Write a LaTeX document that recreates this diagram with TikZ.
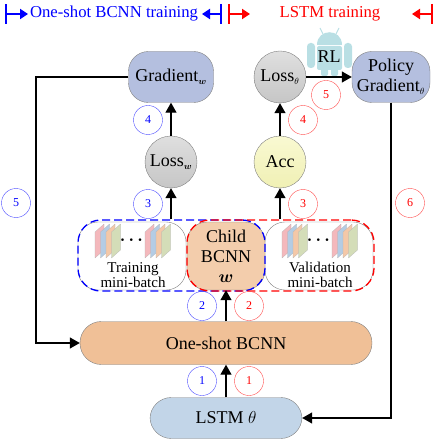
\documentclass[tikz,border=0pt]{standalone}
\usepackage{fontspec}
\setmainfont{Liberation Serif}
\usepackage{amsmath}
\usepackage{bm}
\usepackage{tikz}
\usetikzlibrary{arrows.meta}

\definecolor{gradfill}{HTML}{B4BFDF}
\definecolor{childfill}{HTML}{F0C097}
\definecolor{lstmfill}{HTML}{C2D5E8}
\definecolor{robotfill}{HTML}{B9DFE4}
\definecolor{bluemark}{HTML}{0000FF}
\definecolor{redmark}{HTML}{FF0000}
\definecolor{cardred}{HTML}{F4B8BC}
\definecolor{cardblue}{HTML}{B4CCE4}
\definecolor{cardorange}{HTML}{F4C8A8}
\definecolor{cardgreen}{HTML}{D4DDB8}
\definecolor{acctop}{HTML}{F9F9D2}
\definecolor{accbot}{HTML}{F0F0B4}

\newcommand{\subw}{$_{\scriptscriptstyle\bm{w}}$}
\newcommand{\subt}{$_{\scriptscriptstyle\theta}$}

\begin{document}
\begin{tikzpicture}[
  x=1pt, y=-1pt,
  every node/.style={font=\fontsize{18}{20}\selectfont},
  box/.style={rectangle,draw=gray,rounded corners=7mm,thin,align=center,inner sep=0pt},
  loss/.style={circle,draw=gray,thin,minimum size=52pt,inner sep=0pt,top color=gray!25,bottom color=gray!45},
  pill/.style={rectangle,rounded corners=7.5mm,draw=gray,thin,inner sep=0pt},
  group/.style={rectangle,dashed,dash pattern=on 8pt off 4pt,line width=1.3pt,rounded corners=8mm,minimum width=187pt,minimum height=71pt},
  numblue/.style={circle,draw=bluemark!70,text=bluemark,thin,minimum size=29pt,inner sep=0pt,font=\fontsize{12}{13}\selectfont},
  numred/.style={circle,draw=redmark!70,text=redmark,thin,minimum size=29pt,inner sep=0pt,font=\fontsize{12}{13}\selectfont},
  flow/.style={draw,line width=1.2pt,-{Triangle[length=10pt,width=11pt]}},
  span/.style={line width=2pt,{Bar[width=20pt,line width=2pt]}-{Triangle[length=8pt,width=10pt]}},
  title/.style={font=\fontsize{16.7}{19}\selectfont},
  caption/.style={align=center,font=\fontsize{15}{15}\selectfont}
]
  \useasboundingbox (0,0) rectangle (436,446);

  % header
  \node[title,text=bluemark] (onetitle) at (114,14) {One-shot BCNN training};
  \node[title,text=redmark]  (lstmtitle) at (330,14) {LSTM training};
  \coordinate (b1) at (5,14);    \coordinate (b2) at (28,14);
  \coordinate (b3) at (222,14);  \coordinate (b4) at (202,14);
  \coordinate (r1) at (228,14);  \coordinate (r2) at (250,14);
  \coordinate (r3) at (433,14);  \coordinate (r4) at (412,14);
  \draw[span,bluemark] (b1) -- (b2);
  \draw[span,bluemark] (b3) -- (b4);
  \draw[span,redmark]  (r1) -- (r2);
  \draw[span,redmark]  (r3) -- (r4);

  % robot
  \fill[robotfill,rounded corners=2pt] (317,46) rectangle (342,70);
  \fill[robotfill] (317,45) .. controls (317,28) and (342,28) .. (342,45) -- cycle;
  \fill[robotfill,rounded corners=3.5pt] (307,43) rectangle (315,68);
  \fill[robotfill,rounded corners=3.5pt] (344,43) rectangle (352,68);
  \fill[robotfill,rounded corners=2pt] (321,65) rectangle (328,76);
  \fill[robotfill,rounded corners=2pt] (331,65) rectangle (338,76);
  \draw[robotfill,line width=1pt] (323,34) -- (320,28) (336,34) -- (339,28);
  \node (rl) at (329,57) {RL};

  % main boxes
  \node[box,fill=gradfill,minimum width=85pt,minimum height=51pt] (grad) at (171,77) {Gradient\subw};
  \node[box,fill=gradfill,minimum width=78pt,minimum height=51pt] (policy) at (391,77) {Policy\\Gradient\subt};
  \node[loss] (losst) at (280,77) {Loss\subt};
  \node[loss] (lossw) at (171,162) {Loss\subw};
  \node[loss,top color=acctop,bottom color=accbot] (acc) at (280,162) {Acc};

  \node[box,minimum width=108pt,minimum height=68pt] (train) at (132,256) {};
  \node[box,minimum width=108pt,minimum height=68pt] (valid) at (319,256) {};
  \node[box,fill=childfill!80!white,minimum width=78pt,minimum height=68pt] (child) at (226,256) {Child\\BCNN\\$\bm{w}$};
  \node[caption] (trainlab) at (133,275) {Training\\mini-batch};
  \node[caption] (validlab) at (320,275) {Validation\\mini-batch};

  % stacks of feature maps
  \foreach \sx in {95,145,282,332}{
    \foreach \i/\c in {0/cardred,1/cardblue,2/cardorange,3/cardgreen}{
      \fill[\c,draw=gray!60,line width=0.2pt] ({\sx+\i*5.5},232) -- ({\sx+\i*5.5+9},224)
        -- ({\sx+\i*5.5+9},250) -- ({\sx+\i*5.5},258) -- cycle;
    }
  }
  \node (dotsa) at (133,240) {$\boldsymbol{\cdots}$};
  \node (dotsb) at (320,240) {$\boldsymbol{\cdots}$};

  % dashed groups
  \node[group,draw=bluemark] (bluegroup) at (171.5,255.5) {};
  \node[group,draw=redmark]  (redgroup) at (280.5,255.5) {};

  \node[pill,fill=childfill,minimum width=292pt,minimum height=43pt] (oneshot) at (226,343) {One-shot BCNN};
  \node[pill,fill=lstmfill,minimum width=152pt,minimum height=41pt] (lstm) at (226,418) {LSTM $\theta$};

  % connectors
  \coordinate (tl) at (36,77);
  \coordinate (bl) at (36,343);
  \coordinate (br) at (391,418);
  \path[flow] (lstm.north) -- (oneshot.south);
  \path[flow] (oneshot.north) -- (child.south);
  \path[flow] (lossw.north) -- (grad.south);
  \path[flow] (lossw.south |- bluegroup.north) -- (lossw.south);
  \path[flow] (acc.south |- redgroup.north) -- (acc.south);
  \path[flow] (acc.north) -- (losst.south);
  \path[flow] (losst.east) -- (policy.west);
  \path[flow] (grad.west) -- (tl) -- (bl) -- (oneshot.west);
  \path[flow] (policy.south) -- (br) -- (lstm.east);

  % step numbers
  \node[numblue] (c1) at (202,381) {1};
  \node[numred]  (d1) at (249,381) {1};
  \node[numblue] (c2) at (202,306) {2};
  \node[numred]  (d2) at (249,306) {2};
  \node[numblue] (c3) at (148,204) {3};
  \node[numred]  (d3) at (303,204) {3};
  \node[numblue] (c4) at (148,120) {4};
  \node[numred]  (d4) at (303,120) {4};
  \node[numblue] (c5) at (16,203) {5};
  \node[numred]  (d5) at (326,95) {5};
  \node[numred]  (d6) at (410,203) {6};
\end{tikzpicture}
\end{document}
